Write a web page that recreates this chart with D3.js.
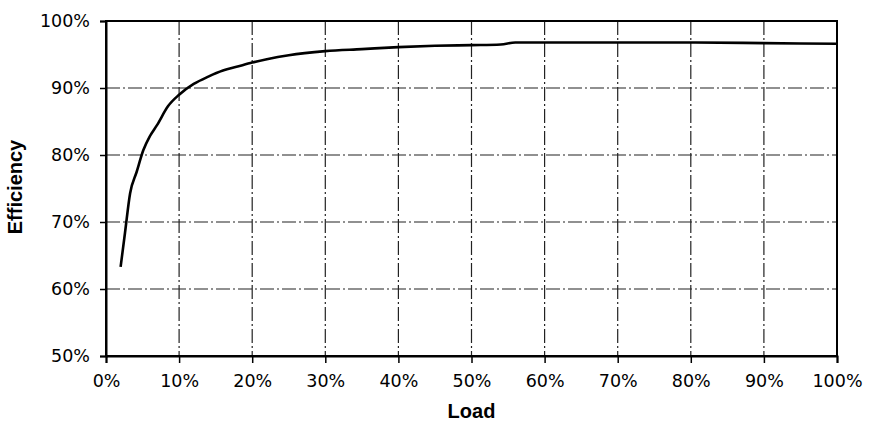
<!DOCTYPE html>
<html>
<head>
<meta charset="utf-8">
<script src="https://cdn.jsdelivr.net/npm/d3@7"></script>
<style>
  body { margin: 0; background: #fff; }
  text { font-family: "Liberation Sans", Arial, sans-serif; }
</style>
</head>
<body>
<div id="chart"></div>
<script>
const loadPct = [2, 2.6, 3.3, 4.2, 5.1, 6, 7, 8.5, 10, 12, 14, 16, 18, 20, 22, 25, 30, 35, 40, 45, 50, 54, 56, 60, 70, 80, 90, 100];
const effPct = [63.3, 68.4, 74.3, 77.5, 80.7, 82.8, 84.5, 87.3, 89.0, 90.6, 91.7, 92.6, 93.2, 93.8, 94.3, 94.9, 95.5, 95.8, 96.1, 96.3, 96.4, 96.5, 96.8, 96.8, 96.8, 96.8, 96.7, 96.6];
const xTicks = [0, 10, 20, 30, 40, 50, 60, 70, 80, 90, 100];
const yTicks = [50, 60, 70, 80, 90, 100];

(function () {
    const margin = { top: 21, right: 34, bottom: 70, left: 106 };
    const width = 871 - margin.left - margin.right;
    const height = 426 - margin.top - margin.bottom;

    const x = d3.scaleLinear().domain([0, 100]).range([0, width]);
    const y = d3.scaleLinear().domain([50, 100]).range([height, 0]);

    const svg = d3.select("#chart")
        .append("svg")
        .attr("width", 871)
        .attr("height", 426)
        .append("g")
        .attr("transform", `translate(${margin.left},${margin.top})`);

    // grid (dash-dot)
    svg.append("g")
        .selectAll("line")
        .data(xTicks.slice(1, -1))
        .join("line")
        .attr("x1", d => x(d)).attr("x2", d => x(d))
        .attr("y1", 0).attr("y2", height)
        .attr("stroke", "#222")
        .attr("stroke-width", 1.2)
        .attr("stroke-dasharray", "14,3,2,3");

    svg.append("g")
        .selectAll("line")
        .data(yTicks.slice(1, -1))
        .join("line")
        .attr("x1", 0).attr("x2", width)
        .attr("y1", d => y(d)).attr("y2", d => y(d))
        .attr("stroke", "#222")
        .attr("stroke-width", 1.2)
        .attr("stroke-dasharray", "14,3,2,3");

    // frame
    svg.append("rect")
        .attr("width", width)
        .attr("height", height)
        .attr("fill", "none")
        .attr("stroke", "#000")
        .attr("stroke-width", 2);

    // axes
    const xAxis = svg.append("g")
        .attr("transform", `translate(0,${height})`)
        .call(d3.axisBottom(x).tickValues(xTicks).tickFormat(d => d + "%").tickSize(7).tickPadding(12));
    const yAxis = svg.append("g")
        .call(d3.axisLeft(y).tickValues(yTicks).tickFormat(d => d + "%").tickSize(6).tickPadding(10));

    [xAxis, yAxis].forEach(g => {
        g.select(".domain").attr("stroke", "#000").attr("stroke-width", 2);
        g.selectAll(".tick line").attr("stroke", "#000").attr("stroke-width", 1.5);
        g.selectAll("text")
            .attr("fill", "#000")
            .style("font-family", "'DejaVu Sans', sans-serif")
            .style("font-size", "17.5px");
    });

    // curve
    const data = loadPct.map((d, i) => ({ load: d, eff: effPct[i] }));
    const line = d3.line()
        .x(d => x(d.load))
        .y(d => y(d.eff))
        .curve(d3.curveMonotoneX);

    svg.append("path")
        .datum(data)
        .attr("fill", "none")
        .attr("stroke", "#000")
        .attr("stroke-width", 2.6)
        .attr("d", line);

    // axis titles
    svg.append("text")
        .attr("x", width / 2)
        .attr("y", height + 62)
        .attr("text-anchor", "middle")
        .style("font-size", "20px")
        .style("font-weight", "bold")
        .text("Load");

    svg.append("text")
        .attr("transform", `translate(${-84},${166}) rotate(-90)`)
        .attr("text-anchor", "middle")
        .style("font-size", "20px")
        .style("font-weight", "bold")
        .text("Efficiency");
})();
</script>
</body>
</html>
